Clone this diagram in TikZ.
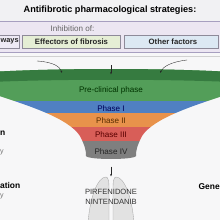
\documentclass[tikz,border=0pt]{standalone}
\usepackage{fontspec}
\setmainfont{Liberation Sans}
\usetikzlibrary{arrows.meta}

\definecolor{bggray}{HTML}{F7F7F8}
\definecolor{titlegray}{HTML}{F1F1F3}
\definecolor{panelline}{HTML}{A79FC0}
\definecolor{lavender}{HTML}{ECE6F2}
\definecolor{boxline}{HTML}{8E8A99}
\definecolor{waysfill}{HTML}{EEEAF5}
\definecolor{effgreen}{HTML}{E5EED5}
\definecolor{othblue}{HTML}{DCE8F3}
\definecolor{rimgreen}{HTML}{367B40}
\definecolor{pregreen}{HTML}{539E59}
\definecolor{phaseblue}{HTML}{5080C2}
\definecolor{phaseorange}{HTML}{E8924B}
\definecolor{phasered}{HTML}{D85E58}
\definecolor{phasegray}{HTML}{7F7F7F}
\definecolor{lungfill}{HTML}{E2E2E2}
\definecolor{lungline}{HTML}{A9A9A9}

\begin{document}
\begin{tikzpicture}[x=0.05cm, y=-0.05cm,
  boxtext/.style={font=\fontsize{11}{13}\selectfont\bfseries, text=black!85},
  phasetext/.style={font=\fontsize{11.5}{13}\selectfont},
  sidetext/.style={font=\fontsize{12}{14}\selectfont\bfseries},
  faint/.style={font=\fontsize{10}{12}\selectfont, text=black!55},
  drugtext/.style={font=\fontsize{10.8}{13}\selectfont, text=black!80},
  arr/.style={-{Latex[length=3pt,width=2.6pt]}, line width=0.5pt, black!85}]
  \useasboundingbox (0,0) rectangle (220,220);
  \clip (0,0) rectangle (220,220);
  \fill[bggray] (0,0) rectangle (220,220);

  % header and inhibition panel
  \filldraw[fill=titlegray, draw=panelline, line width=0.6pt] (-2,-2) rectangle (222,21);
  \node[font=\fontsize{13}{15}\selectfont\bfseries] (title) at (110,10.5)
        {Antifibrotic pharmacological strategies:};
  \filldraw[fill=lavender, draw=panelline, line width=0.6pt] (-2,21) rectangle (222,52.5);
  \draw[black!18, line width=0.5pt] (-2,56) -- (222,56);
  \node[font=\fontsize{11.5}{13}\selectfont, text=black!60] (inhib) at (72.5,28.5) {Inhibition of:};

  \filldraw[fill=waysfill, draw=boxline, line width=0.6pt] (-5,35) rectangle (19.5,48.5);
  \node[boxtext, font=\fontsize{10.5}{13}\selectfont\bfseries, anchor=west, inner sep=0pt]
        (ways) at (0.5,41.75) {ways};
  \filldraw[fill=effgreen, draw=boxline, line width=0.6pt] (22.5,35) rectangle (120,48.5);
  \node[boxtext] (effectors) at (71.5,41.75) {Effectors of fibrosis};
  \filldraw[fill=othblue, draw=boxline, line width=0.6pt] (124,35) rectangle (218.5,48.5);
  \node[boxtext] (other) at (173,41.75) {Other factors};

  % funnel
  \begin{scope}
    \clip (-10,72) .. controls (60,68) and (162,68) .. (232,72) -- (232,93)
      .. controls (192,106) and (154,118) .. (142,136)
      .. controls (137,146) and (136,150) .. (136,156)
      .. controls (134,160) and (88,160) .. (86,156)
      .. controls (86,150) and (85,146) .. (80,136)
      .. controls (68,118) and (30,106) .. (-10,93) -- cycle;
    \fill[pregreen] (-10,60) rectangle (232,101);
    \fill[rimgreen] (-10,60) -- (232,60) -- (232,82)
      .. controls (162,79) and (60,79) .. (-10,82) -- cycle;
    \fill[phaseblue] (-10,101) rectangle (232,113);
    \fill[phaseorange] (-10,113) rectangle (232,127);
    \fill[phasered] (-10,127) rectangle (232,141);
    \fill[phasegray] (-10,141) rectangle (232,170);
  \end{scope}
  \node[phasetext, text=green!20!black] (pre) at (111,90) {Pre-clinical phase};
  \node[phasetext, text=blue!35!black] (ph1) at (111,108.5) {Phase I};
  \node[phasetext, text=orange!35!black] (ph2) at (111,121) {Phase II};
  \node[phasetext, text=red!35!black] (ph3) at (111,135) {Phase III};
  \node[phasetext, text=black!85] (ph4) at (111,151.5) {Phase IV};

  % arrows into the funnel
  \coordinate (lsrc) at (37,61);
  \coordinate (ltip) at (62,73);
  \coordinate (msrc) at (111,65);
  \coordinate (mtip) at (111,74.5);
  \coordinate (rsrc) at (187,60);
  \coordinate (rtip) at (160,73);
  \draw[arr] (lsrc) .. controls (54,62) and (60,67) .. (ltip);
  \draw[arr] (msrc) -- (mtip);
  \draw[arr] (rsrc) .. controls (170,62) and (163,67) .. (rtip);

  % lungs
  \filldraw[fill=lungfill, draw=lungline, line width=0.5pt]
    (106,177) .. controls (98,177) and (90,196) .. (88,223) -- (109,223) -- (109,187)
    .. controls (109,181) and (108,177) .. (106,177) -- cycle;
  \filldraw[fill=lungfill, draw=lungline, line width=0.5pt]
    (116,177) .. controls (124,177) and (132,196) .. (134,223) -- (113,223) -- (113,187)
    .. controls (113,181) and (114,177) .. (116,177) -- cycle;
  \coordinate (lungtop) at (111,176.5);
  \coordinate (ph4out) at (111,166.5);
  \draw[arr] (ph4out) -- (lungtop);
  \node[drugtext] (pirf) at (111,191.5) {PIRFENIDONE};
  \node[drugtext] (nint) at (111,202) {NINTENDANIB};

  % cut-off side labels
  \node[sidetext, anchor=west, inner sep=0pt] (leftn) at (0,133) {n};
  \node[faint, anchor=west, inner sep=0pt] (lefty) at (0,152) {y};
  \node[sidetext, anchor=west, inner sep=0pt] (leftation) at (0,185) {ation};
  \node[faint, anchor=west, inner sep=0pt] (lefty2) at (0,196) {y};
  \node[sidetext, anchor=west, inner sep=0pt] (gene) at (198.5,186.5) {Gene};
\end{tikzpicture}
\end{document}
